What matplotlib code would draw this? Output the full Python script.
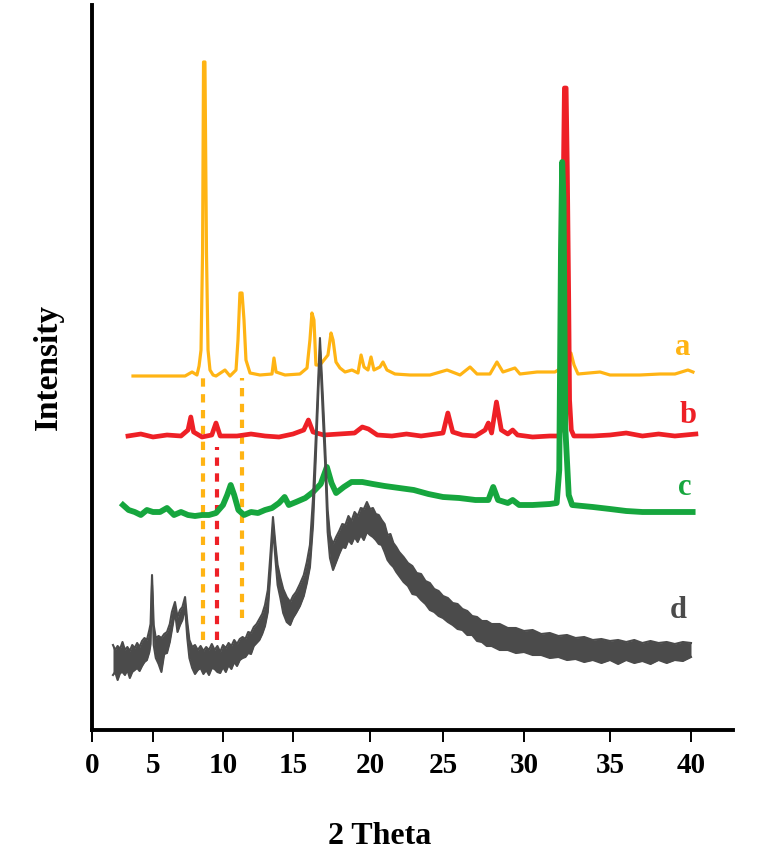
import numpy as np
import matplotlib
matplotlib.use("Agg")
import matplotlib.pyplot as plt

plt.rcParams['font.family'] = ['Liberation Serif', 'DejaVu Serif']
plt.rcParams['font.weight'] = 'bold'

# ---------------- data (2 Theta, intensity in arbitrary units) ----------------
a_theta = [3.36, 7.29, 7.79, 8.14, 8.29, 8.43, 8.54, 8.61, 8.71, 8.82, 8.93, 9.07, 9.29, 9.5,
           10.14, 10.5, 10.93, 11.07, 11.21, 11.36, 11.5, 11.64, 11.93, 12.64, 13.5, 13.64,
           13.79, 14.43, 15.45, 15.91, 16.1, 16.23, 16.36, 16.49, 16.75, 17.27, 17.47, 17.6,
           17.79, 18.05, 18.38, 18.83, 19.22, 19.42, 19.61, 19.87, 20.07, 20.27, 20.68, 20.89,
           21.16, 21.71, 22.74, 24.11, 25.25, 26.05, 26.67, 27.1, 27.9, 28.33, 28.7, 29.44,
           29.75, 30.76, 31.8, 31.98, 32.56, 32.73, 32.91, 33.14, 34.42, 35.0, 36.85, 38.09,
           39.01, 39.81, 40.12]
a_int = [354, 354, 358, 355, 364, 380, 477, 668, 668, 477, 380, 360, 355, 354,
         360, 354, 360, 390, 437, 437, 410, 370, 357, 355, 356, 372,
         358, 355, 356, 362, 390, 417, 410, 365, 365, 375, 397, 390,
         368, 362, 358, 360, 357, 375, 363, 360, 373, 360, 363, 368,
         360, 356, 355, 355, 360, 355, 363, 356, 356, 368, 358, 362,
         356, 358, 358, 360, 358, 377, 365, 356, 358, 355, 355, 356,
         356, 360, 358]

b_theta = [2.95, 4.0, 5.0, 6.0, 7.0, 7.5, 7.7, 7.9, 8.5, 9.2, 9.5, 9.8, 11.0, 12.0, 13.0,
           14.0, 15.0, 15.7, 16.0, 16.3, 17.0, 18.0, 19.0, 19.5, 19.9, 20.5, 21.5, 22.5,
           23.5, 24.5, 25.0, 25.3, 25.6, 26.2, 27.0, 27.6, 27.8, 28.0, 28.3, 28.6, 29.0,
           29.3, 29.6, 30.5, 31.5, 32.0, 32.15, 32.25, 32.35, 32.45, 32.52, 32.6, 32.65,
           32.75, 32.9, 34.0, 35.0, 36.0, 37.0, 38.0, 39.0, 40.3]
b_int = [294, 296, 293, 295, 294, 300, 313, 298, 293, 295, 307, 294, 294, 296, 294,
         293, 296, 300, 310, 298, 295, 296, 297, 303, 301, 295, 294, 296,
         294, 296, 297, 317, 298, 295, 294, 300, 307, 297, 328, 300, 296,
         300, 295, 293, 294, 294, 300, 500, 642, 642, 560, 430, 330,
         300, 294, 294, 295, 297, 294, 296, 294, 296]

c_theta = [2.54, 3.0, 3.5, 4.0, 4.5, 5.0, 5.5, 6.0, 6.5, 7.0, 7.5, 8.0, 8.5, 9.0, 9.5,
           10.0, 10.3, 10.55, 10.8, 11.1, 11.5, 12.0, 12.5, 13.0, 13.5, 14.0, 14.4, 14.7,
           15.2, 15.8, 16.3, 16.8, 17.2, 17.5, 17.8, 18.3, 18.8, 19.5, 20.2, 21.0, 22.0,
           23.0, 24.0, 25.0, 26.0, 27.0, 27.8, 28.1, 28.4, 29.0, 29.3, 29.7, 30.5, 31.5,
           31.9, 32.05, 32.15, 32.22, 32.3, 32.4, 32.6, 32.8, 34.0, 35.0, 36.0, 37.0,
           38.0, 39.0, 40.1]
c_int = [225, 220, 218, 215, 220, 218, 218, 222, 215, 218, 215, 214, 215, 215, 217,
         225, 235, 245, 235, 220, 215, 218, 217, 220, 222, 227, 233, 225,
         228, 232, 238, 246, 263, 247, 237, 243, 248, 248, 246, 244, 242,
         240, 236, 233, 232, 230, 230, 243, 230, 227, 230, 225, 225, 226,
         227, 260, 480, 568, 530, 303, 235, 225, 223, 221, 219, 218,
         218, 218, 218]

# pattern d is drawn as a noisy band: upper and lower envelope
d_theta = [1.72, 1.9, 2.1, 2.3, 2.5, 2.7, 2.9, 3.1, 3.3, 3.5,
           3.7, 3.9, 4.1, 4.3, 4.5, 4.7, 4.8, 4.92, 5.05, 5.2,
           5.4, 5.6, 5.8, 6.0, 6.2, 6.35, 6.57, 6.75, 6.93, 7.1,
           7.29, 7.45, 7.6, 7.8, 8.0, 8.2, 8.4, 8.6, 8.8, 9.0,
           9.2, 9.4, 9.6, 9.8, 10.0, 10.2, 10.4, 10.6, 10.8, 11.0,
           11.2, 11.4, 11.6, 11.8, 12.0, 12.2, 12.4, 12.6, 12.8, 13.0,
           13.2, 13.4, 13.57, 13.75, 13.9, 14.1, 14.3, 14.55, 14.8, 15.0,
           15.2, 15.45, 15.7, 15.9, 16.1, 16.3, 16.5, 16.75, 16.95, 17.1,
           17.25, 17.4, 17.6, 17.8, 18.0, 18.2, 18.4, 18.6, 18.8, 19.0,
           19.2, 19.4, 19.6, 19.8, 20.0, 20.2, 20.4, 20.6, 20.8, 21.0,
           21.2, 21.4, 21.6, 21.8, 22.0, 22.3, 22.6, 22.9, 23.2, 23.5,
           23.8, 24.1, 24.4, 24.7, 25.0, 25.3, 25.6, 25.9, 26.2, 26.5,
           26.8, 27.1, 27.4, 27.7, 28.0, 28.5, 29.0, 29.5, 30.0, 30.5,
           31.0, 31.5, 32.0, 32.5, 33.0, 33.5, 34.0, 34.5, 35.0, 35.5,
           36.0, 36.5, 37.0, 37.5, 38.0, 38.5, 39.0, 39.5, 40.0]
d_high = [85, 80, 84, 81, 88, 80, 83, 79, 85, 82,
          87, 83, 89, 92, 90, 100, 106, 155, 105, 92,
          94, 92, 96, 98, 106, 118, 128, 113, 120, 123,
          133, 108, 90, 83, 85, 80, 84, 79, 83, 80,
          86, 80, 84, 78, 85, 82, 87, 84, 90, 86,
          91, 93, 91, 98, 97, 103, 106, 111, 116, 125,
          140, 178, 213, 185, 165, 152, 141, 133, 128, 134,
          138, 146, 155, 168, 185, 232, 300, 392, 330, 280,
          220, 195, 186, 193, 199, 206, 205, 214, 209, 218,
          214, 222, 221, 228, 221, 222, 216, 215, 210, 206,
          195, 196, 187, 183, 178, 173, 167, 164, 157, 156,
          149, 147, 141, 139, 134, 132, 127, 126, 121, 119,
          114, 113, 109, 109, 106, 106, 102, 102, 99, 100,
          96, 97, 94, 95, 92, 93, 90, 91, 89, 90,
          88, 90, 87, 89, 87, 88, 86, 88, 87]
d_low = [55, 58, 50, 57, 58, 55, 60, 52, 58, 60,
         62, 59, 64, 68, 70, 78, 86, 145, 85, 72,
         66, 58, 76, 77, 88, 100, 118, 98, 105, 110,
         123, 92, 72, 62, 56, 60, 62, 56, 60, 55,
         62, 61, 58, 57, 63, 58, 65, 61, 68, 64,
         70, 72, 73, 77, 76, 84, 87, 90, 96, 104,
         118, 160, 203, 170, 145, 132, 117, 108, 105, 112,
         117, 124, 134, 147, 163, 205, 280, 380, 310, 262,
         198, 172, 160, 168, 176, 183, 182, 190, 186, 193,
         188, 195, 190, 198, 195, 193, 190, 186, 185, 178,
         170, 166, 163, 158, 154, 148, 144, 136, 135, 130,
         126, 120, 118, 114, 112, 108, 105, 101, 100, 95,
         95, 89, 88, 84, 84, 80, 80, 77, 78, 75,
         75, 72, 73, 70, 71, 68, 70, 67, 70, 66,
         70, 67, 69, 66, 70, 67, 70, 69, 73]

series_labels = ['a', 'b', 'c', 'd']
label_theta = [39.5, 39.8, 39.6, 39.2]
label_int = [375, 307, 235, 112]

guide_theta = [8.6, 11.36, 9.57]
guide_top = [352, 352, 283]
guide_bottom = [90, 112, 90]

tick_values = [0, 5, 10, 15, 20, 25, 30, 35, 40]

# ---------------- styling ----------------
C_A = '#FFB414'
C_B = '#EE2026'
C_C = '#16A63E'
C_D = '#4B4B4B'
guide_colors = [C_A, C_A, C_B]

# non-uniform tick spacing of the original axis (relative positions of the ticks)
warp_pos = [0, 61, 131, 201, 278, 351, 432, 518, 599]


def _warp(v, xs, ys):
    v = np.asarray(v, dtype=float)
    xs = np.asarray(xs, dtype=float)
    ys = np.asarray(ys, dtype=float)
    out = np.interp(v, xs, ys)
    s0 = (ys[1] - ys[0]) / (xs[1] - xs[0])
    s1 = (ys[-1] - ys[-2]) / (xs[-1] - xs[-2])
    out = np.where(v < xs[0], ys[0] + (v - xs[0]) * s0, out)
    out = np.where(v > xs[-1], ys[-1] + (v - xs[-1]) * s1, out)
    return out


def fwd(v):
    return _warp(v, tick_values, warp_pos)


def inv(v):
    return _warp(v, warp_pos, tick_values)


W, H = 765, 856
fig = plt.figure(figsize=(W / 100, H / 100), dpi=100)
ax = fig.add_axes([92 / W, 1 - 730 / H, (733 - 92) / W, (730 - 5) / H])
ax.set_xscale('function', functions=(fwd, inv))
ax.set_xlim(0, float(inv(733 - 92)))
ax.set_ylim(0, 725)

ax.plot(a_theta, a_int, color=C_A, lw=2.3, zorder=2, solid_joinstyle='round')
ax.plot(b_theta, b_int, color=C_B, lw=3.4, zorder=3, solid_joinstyle='round')
ax.plot(c_theta, c_int, color=C_C, lw=4.2, zorder=4, solid_joinstyle='round')
ax.fill_between(d_theta, d_low, d_high, color=C_D, lw=0, zorder=5)
ax.plot(d_theta, d_high, color=C_D, lw=1.5, zorder=5)
ax.plot(d_theta, d_low, color=C_D, lw=1.5, zorder=5)

for t, y0, y1, col in zip(guide_theta, guide_bottom, guide_top, guide_colors):
    ax.plot([t, t], [y0, y1], color=col, lw=3.0, dashes=(2.0, 1.8),
            dash_capstyle='butt', zorder=1)

for lab, t, y, col in zip(series_labels, label_theta, label_int, [C_A, C_B, C_C, C_D]):
    ax.text(t, y, lab, color=col, fontsize=22, fontweight='bold', ha='center',
            va='baseline', zorder=6)

for side in ['top', 'right']:
    ax.spines[side].set_visible(False)
for side in ['left', 'bottom']:
    ax.spines[side].set_linewidth(2.8)
    ax.spines[side].set_color('black')

ax.set_xticks(tick_values)
ax.set_xticklabels([str(v) for v in tick_values])
ax.xaxis.set_minor_locator(matplotlib.ticker.NullLocator())
ax.tick_params(axis='x', direction='out', length=8.5, width=1.4, pad=7,
               labelsize=21)
for lbl in ax.get_xticklabels():
    lbl.set_fontweight('bold')
ax.set_yticks([])

fig.text(380 / W, 1 - 836 / H, '2 Theta', ha='center', va='center',
         fontsize=23, fontweight='bold')
fig.text(48 / W, 1 - 367 / H, 'Intensity', ha='center', va='center',
         rotation=90, fontsize=24, fontweight='bold')

fig.savefig('out.png', dpi=100)
